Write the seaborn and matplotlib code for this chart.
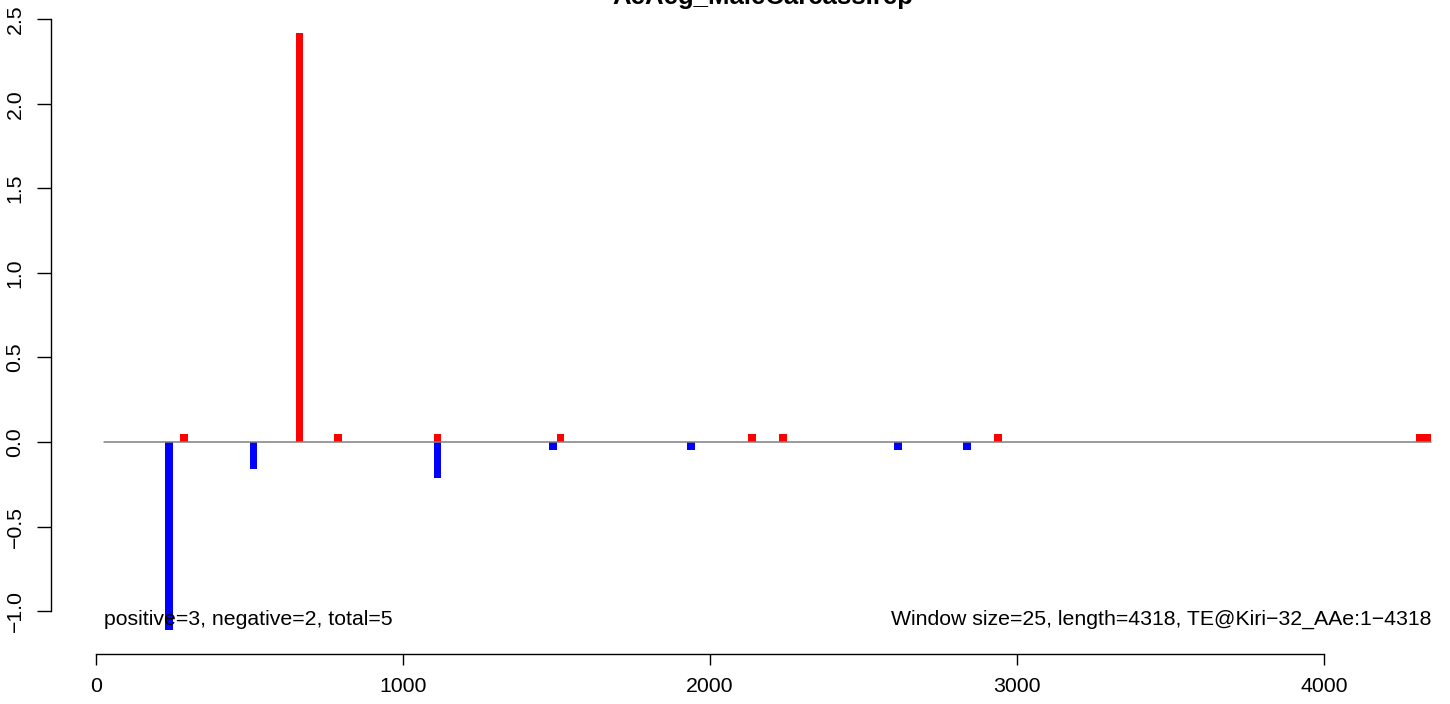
import numpy as np
import matplotlib.pyplot as plt
import seaborn as sns

sns.set_theme(style='white')
plt.rcParams['font.family'] = ['Liberation Sans', 'DejaVu Sans']

# ── data (window start positions, window size 25) ──
WIN = 25
pos_start = [275, 650, 775, 1100, 1500, 2125, 2225, 2925, 4300, 4325]
pos_value = [0.05, 2.42, 0.05, 0.05, 0.05, 0.05, 0.05, 0.05, 0.05, 0.05]
neg_start = [225, 500, 1100, 1475, 1925, 2600, 2825]
neg_value = [-1.11, -0.16, -0.21, -0.05, -0.05, -0.05, -0.05]
x_ticks = [0, 1000, 2000, 3000, 4000]
y_ticks = [-1.0, -0.5, 0.0, 0.5, 1.0, 1.5, 2.0, 2.5]
title = 'AeAeg_MaleCarcass.rep'
left_note = 'positive=3, negative=2, total=5'
right_note = 'Window size=25, length=4318, TE@Kiri\u221232_AAe:1\u22124318'

W, H = 1450, 704
fig = plt.figure(figsize=(W / 100, H / 100), dpi=100, facecolor='white')
ax = fig.add_axes([50.7 / W, (H - 640) / H, (W - 50.7) / W, 640 / H])
ax.set_facecolor('white')

ax.bar(pos_start, pos_value, width=WIN, align='edge', color='#FF0000', linewidth=0)
ax.bar(neg_start, neg_value, width=WIN, align='edge', color='#0000FF', linewidth=0)
ax.plot([25, 4350], [0, 0], color='#7f7f7f', lw=1.1, zorder=3)

ax.set_xlim((50.7 - 96) / 0.307, (W - 96) / 0.307)
ax.set_ylim((442 - 640) / 169.1, 442 / 169.1)

for s in ['top', 'right']:
    ax.spines[s].set_visible(False)
ax.spines['left'].set_bounds(-1.0, 2.5)
ax.spines['bottom'].set_bounds(0, 4000)
ax.spines['bottom'].set_position(('outward', 10))
for s in ['left', 'bottom']:
    ax.spines[s].set_color('black')
    ax.spines[s].set_linewidth(1.0)

ax.set_xticks(x_ticks)
ax.set_xticklabels([str(v) for v in x_ticks])
ax.set_yticks(y_ticks)
ax.set_yticklabels([f'{v:.1f}'.replace('-', '\u2212') for v in y_ticks])
ax.tick_params(axis='x', direction='out', length=8, width=1, color='black',
               pad=9, labelsize=15.3, labelcolor='black', bottom=True)
ax.tick_params(axis='y', direction='out', length=9.8, width=1, color='black',
               pad=9, labelsize=15.3, labelcolor='black', left=True, labelrotation=90)
for lab in ax.get_yticklabels():
    lab.set_va('center')

ax.text(25, -1.05, left_note, ha='left', va='center', fontsize=15.3, color='black')
ax.text(4350, -1.05, right_note, ha='right', va='center', fontsize=15.3, color='black')

fig.text(763 / W, 1 - 4 / H, title, ha='center', va='baseline',
         fontsize=18.5, fontweight='bold', color='black')

fig.savefig('out.png', dpi=100, facecolor='white')
